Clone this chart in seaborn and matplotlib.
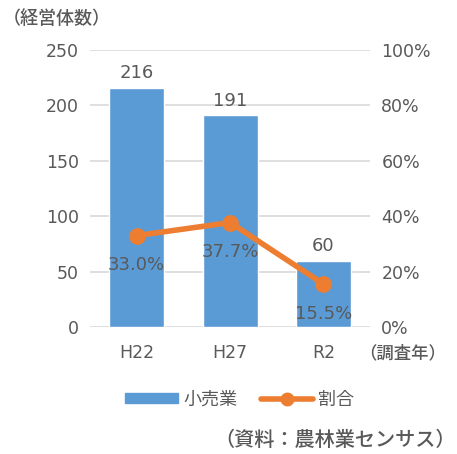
import matplotlib
matplotlib.use("Agg")
import matplotlib.pyplot as plt
import seaborn as sns
import pandas as pd
from matplotlib.lines import Line2D
from matplotlib.patches import Patch

years = ["H22", "H27", "R2"]
retail = [216, 191, 60]
ratio = [33.0, 37.7, 15.5]
left_ticks = [0, 50, 100, 150, 200, 250]
right_ticks = [0, 20, 40, 60, 80, 100]

sns.set_theme(style="white")
plt.rcParams['font.family'] = ['DejaVu Sans', 'Noto Sans CJK JP']
jp = ['Noto Sans CJK JP', 'DejaVu Sans']
tc = "#595959"
blue = "#5B9BD5"
orange = "#ED7D31"

df = pd.DataFrame({"year": years, "retail": retail, "ratio": ratio})

fig = plt.figure(figsize=(4.57, 4.54), dpi=100)
ax = fig.add_axes([0.197, 0.2797, 0.613, 0.6103])
sns.barplot(data=df, x="year", y="retail", color=blue, saturation=1, width=0.59, ax=ax, zorder=2)
ax.set_ylim(0, 250)
ax.set_yticks(left_ticks)
ax.yaxis.grid(True, color="#d9d9d9", lw=1.2, zorder=0)
ax.set_axisbelow(True)
for s in ax.spines.values():
    s.set_visible(False)
ax.set_xlabel("")
ax.set_ylabel("")
ax.tick_params(axis="both", colors=tc, labelsize=12.5, length=0, pad=8)
ax.tick_params(axis="x", pad=12)
for i, v in enumerate(retail):
    ax.text(i, v + 5, f"{v}", ha="center", va="bottom", color=tc, fontsize=13)

ax2 = ax.twinx()
ax2.plot(range(len(years)), ratio, color=orange, lw=4, marker="o", ms=11, zorder=3)
ax2.set_ylim(0, 100)
ax2.set_yticks(right_ticks)
ax2.set_yticklabels([f"{t}%" for t in right_ticks])
for s in ax2.spines.values():
    s.set_visible(False)
ax2.tick_params(axis="y", colors=tc, labelsize=12.5, length=0, pad=8)
for i, v in enumerate(ratio):
    ax2.text(i, v - 7.5, f"{v:.1f}%", ha="center", va="top", color=tc, fontsize=13)
ax.set_xlim(-0.5, 2.5)

fig.text(0.005, 0.958, "（経営体数）", family=jp, color=tc, fontsize=13, ha="left", va="center", fontweight="medium")
fig.text(0.975, 0.222, "（調査年）", family=jp, color=tc, fontsize=12.5, ha="right", va="center", fontweight="medium")
fig.text(0.998, 0.031, "（資料：農林業センサス）", family=jp, color=tc, fontsize=14.5, ha="right", va="center", fontweight="medium")

handles = [Patch(color=blue), Line2D([0], [0], color=orange, lw=4, marker="o", ms=9)]
leg = fig.legend(handles, ["小売業", "割合"], loc="center", bbox_to_anchor=(0.525, 0.12),
                 ncol=2, frameon=False, prop={"family": jp, "size": 13},
                 handlelength=2.9, handleheight=0.5, columnspacing=1.3, handletextpad=0.3)
for t in leg.get_texts():
    t.set_color(tc)

fig.savefig("out.png", dpi=100)
